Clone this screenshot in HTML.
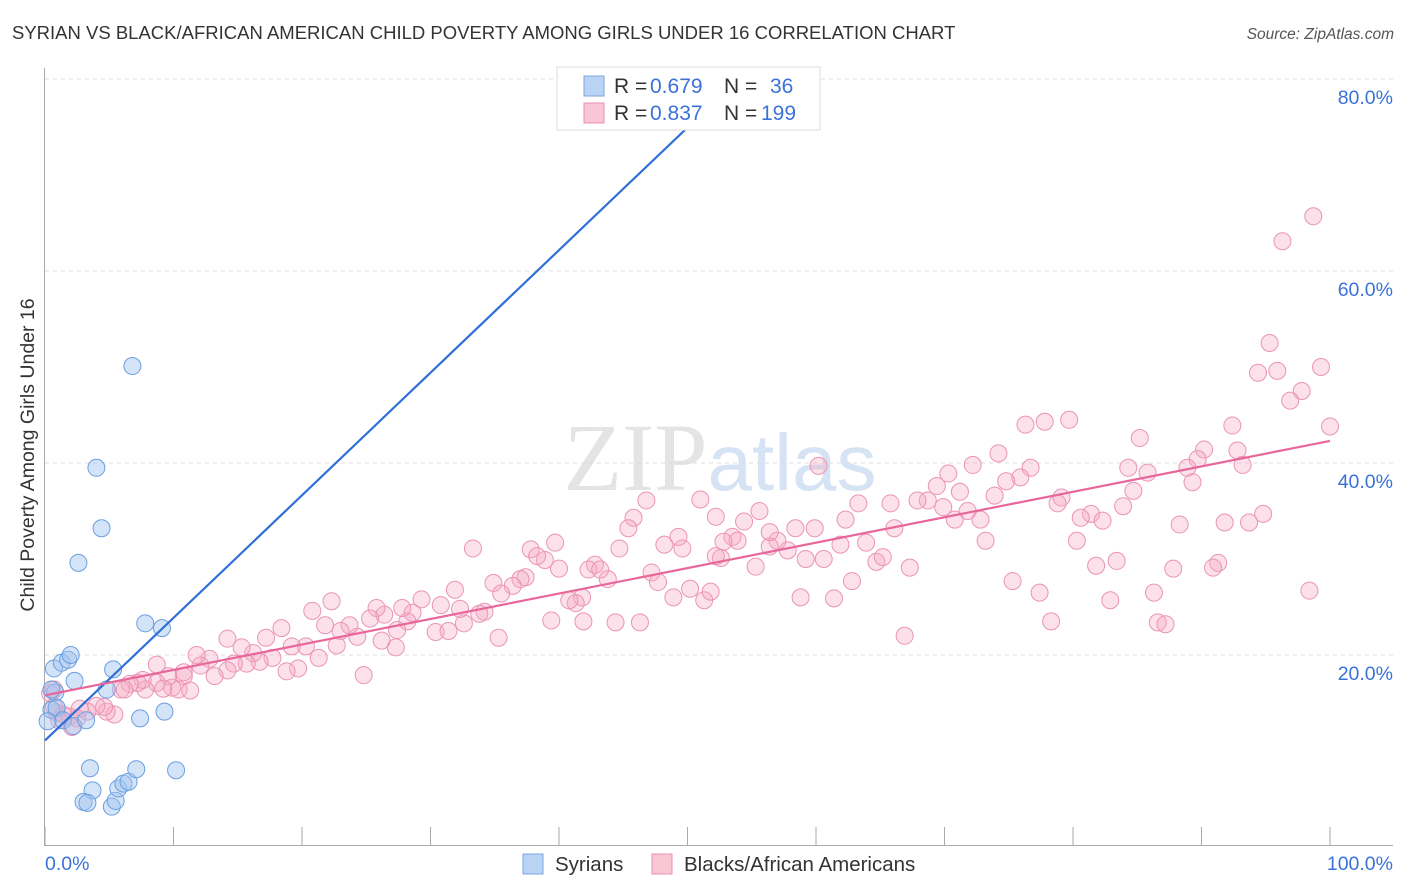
<!DOCTYPE html>
<html><head><meta charset="utf-8"><style>
body{margin:0;background:#fff;font-family:"Liberation Sans",sans-serif;}
svg{display:block}
</style></head><body>
<svg width="1406" height="892" xmlns="http://www.w3.org/2000/svg">
<text x="12" y="39" font-size="18.5" fill="#333">SYRIAN VS BLACK/AFRICAN AMERICAN CHILD POVERTY AMONG GIRLS UNDER 16 CORRELATION CHART</text>
<text x="1394" y="39" font-size="15.5" fill="#555" font-style="italic" text-anchor="end">Source: ZipAtlas.com</text>
<text x="720" y="490" font-size="96" fill="#e4e4e4" text-anchor="middle" font-family="Liberation Serif,serif">ZIP<tspan fill="#d5e3f5" font-family="Liberation Sans,sans-serif" font-size="80">atlas</tspan></text>
<g id="grid"></g>
<g id="axes"></g>
<g id="pts"></g>
<g id="lines"></g>
<text transform="translate(34,455) rotate(-90)" font-size="19.5" fill="#333" text-anchor="middle">Child Poverty Among Girls Under 16</text>
<text x="45" y="870" font-size="19.5" fill="#3b72d9">0.0%</text>
<text x="1393" y="870" font-size="19.5" fill="#3b72d9" text-anchor="end">100.0%</text>
<g>
<rect x="557" y="67" width="263" height="63" fill="#fff" stroke="#ddd"/>
<rect x="584" y="76" width="20" height="20" fill="#b9d3f5" stroke="#7aa7e0"/>
<rect x="584" y="103" width="20" height="20" fill="#f9c6d6" stroke="#e890b0"/>
<text x="614" y="93" font-size="21" fill="#333">R = <tspan x="650" fill="#3b72d9">0.679</tspan><tspan x="724">N = </tspan><tspan x="770" fill="#3b72d9">36</tspan></text>
<text x="614" y="120" font-size="21" fill="#333">R = <tspan x="650" fill="#3b72d9">0.837</tspan><tspan x="724">N = </tspan><tspan x="761" fill="#3b72d9">199</tspan></text>
</g>
<g>
<rect x="523" y="854" width="20" height="20" fill="#b9d3f5" stroke="#7aa7e0"/>
<text x="555" y="871" font-size="20.5" fill="#333">Syrians</text>
<rect x="652" y="854" width="20" height="20" fill="#f9c6d6" stroke="#e890b0"/>
<text x="684" y="871" font-size="20.5" fill="#333">Blacks/African Americans</text>
</g>
</svg>
<script>
const yTicks=[20,40,60,80];
const yTickLabels=["20.0%","40.0%","60.0%","80.0%"];
const xTicks=[0,10,20,30,40,50,60,70,80,90,100];
const blueX=[4.0,4.4,2.6,6.8,7.8,9.1,0.7,1.3,1.8,2.0,2.3,0.8,5.3,4.8,0.5,0.9,1.4,2.2,3.2,7.4,9.3,3.5,3.7,3.0,3.3,5.2,5.5,5.7,6.1,6.5,7.1,10.2,0.2,0.5,47.1];
const blueY=[39.5,33.2,29.6,50.1,23.3,22.8,18.6,19.2,19.5,20.0,17.3,16.1,18.5,16.4,14.3,14.5,13.2,12.6,13.2,13.4,14.1,8.2,5.9,4.7,4.6,4.2,4.8,6.1,6.6,6.8,8.1,8.0,13.1,16.4,79.9];
const pinkX=[98.7,96.3,95.3,94.4,95.9,99.3,97.8,96.9,100,92.4,92.8,93.2,90.2,89.7,88.9,89.3,85.2,84.3,84.7,85.8,79.7,77.8,76.3,74.2,72.2,76.7,75.9,74.8,73.9,70.3,69.4,71.2,68.7,67.9,69.9,71.8,70.8,72.8,73.2,79.1,78.8,81.4,80.6,82.3,83.9,80.3,81.8,83.4,88.3,91.8,93.7,94.8,91.3,90.9,87.8,86.6,87.2,82.9,86.3,98.4,77.4,75.3,78.3,66.9,67.3,66.1,65.8,64.7,65.2,63.9,63.3,62.3,62.8,61.9,60.2,59.9,58.4,59.2,60.6,61.4,58.8,57.8,57.0,56.4,55.6,56.4,54.4,53.5,53.9,52.8,52.6,52.2,51.0,55.3,52.2,49.6,49.3,48.2,47.2,47.7,48.9,50.2,51.3,51.8,46.8,45.8,45.4,44.7,46.3,44.4,43.8,42.8,42.3,43.2,41.8,41.3,40.8,41.9,39.7,40.0,38.9,37.8,38.3,39.4,37.4,37.0,36.4,34.9,35.5,33.3,35.3,34.2,33.8,32.6,31.9,32.3,30.8,30.4,31.4,29.3,28.6,28.2,27.4,27.8,26.4,25.8,25.3,26.2,27.3,24.3,24.8,23.7,23.0,22.3,21.8,20.8,22.7,21.3,20.3,19.2,19.7,18.8,18.4,17.2,17.7,16.7,16.2,15.7,15.3,14.2,14.7,14.2,13.2,12.8,12.1,11.8,10.8,10.8,9.9,9.6,8.7,8.7,7.8,7.6,7.2,6.6,5.9,6.2,10.4,11.3,9.2,5.4,4.8,4.6,4.0,3.3,2.7,2.5,1.9,1.4,0.9,0.7,1.1,2.1,0.4,0.7];
const pinkY=[65.7,63.1,52.5,49.4,49.6,50.0,47.5,46.5,43.8,43.9,41.3,39.8,41.4,40.4,39.5,38.0,42.6,39.5,37.1,39.0,44.5,44.3,44.0,41.0,39.8,39.5,38.5,38.1,36.6,38.9,37.6,37.0,36.1,36.1,35.4,35.0,34.1,34.1,31.9,36.4,35.8,34.7,34.3,34.0,35.5,31.9,29.3,29.8,33.6,33.8,33.8,34.7,29.6,29.1,29.0,23.4,23.2,25.7,26.5,26.7,26.5,27.7,23.5,22.0,29.1,33.2,35.8,29.7,30.2,31.7,35.8,34.1,27.7,31.5,39.7,33.2,33.2,30.0,30.0,25.9,26.0,30.9,31.9,31.3,35.0,32.8,33.9,32.3,31.9,31.8,30.1,34.4,36.2,29.2,30.3,31.1,32.3,31.5,28.6,27.6,26.0,26.9,25.7,26.6,36.1,34.3,33.2,31.1,23.4,23.4,27.9,29.4,28.9,28.9,26.0,25.4,25.7,23.5,31.7,29.0,29.9,31.0,30.3,23.6,28.1,27.9,27.2,27.5,26.4,31.1,21.8,24.5,24.3,23.3,26.8,24.8,25.2,22.4,22.5,25.8,24.4,23.5,22.6,24.9,24.2,24.9,23.8,21.5,20.8,21.9,17.9,23.1,22.5,25.6,23.1,24.6,21.0,19.7,20.9,20.9,18.6,18.3,22.8,21.8,19.7,19.3,20.2,19.1,20.8,21.7,19.1,18.4,17.8,19.6,18.9,20.0,18.2,17.8,16.6,17.8,19.0,17.1,16.4,17.4,17.1,17.0,16.4,16.4,16.4,16.3,16.5,13.8,14.1,14.6,14.7,14.1,14.4,13.4,13.6,13.8,14.0,14.6,13.2,12.5,16.0,16.4];
const blueLine=[[0,11.1],[50.2,75.2]];
const pinkLine=[[0,15.8],[100,42.3]];
const NS="http://www.w3.org/2000/svg";
const X0=45,X1=1330,Y0=847,PXPER=9.6;
function sx(v){return X0+(X1-X0)*v/100;}
function sy(v){return Y0-v*PXPER;}
function mk(tag,attrs,parent){const e=document.createElementNS(NS,tag);for(const k in attrs)e.setAttribute(k,attrs[k]);document.getElementById(parent).appendChild(e);return e;}
yTicks.forEach((t,i)=>{
 const l=mk('line',{x1:45,x2:1393,y1:sy(t),y2:sy(t),stroke:'#ddd','stroke-dasharray':'4,4'},'grid');
 
 
 const tx=mk('text',{x:1393,y:sy(t)+25,'font-size':19.5,fill:'#3b72d9','text-anchor':'end'},'grid');
 tx.textContent=yTickLabels[i];
 
 
});
const ya=mk('line',{x1:44.5,x2:44.5,y1:68,y2:846,stroke:'#aaa'},'axes');


const xa=mk('line',{x1:44,x2:1393,y1:845.5,y2:845.5,stroke:'#aaa'},'axes');


xTicks.forEach(t=>{
 const l=mk('line',{x1:sx(t),x2:sx(t),y1:827,y2:846,stroke:'#aaa'},'axes');
 
 
});
pinkX.forEach((x,i)=>{
 const c=mk('circle',{cx:sx(x),cy:sy(pinkY[i]),r:8.5,fill:'rgba(246,170,196,0.35)',stroke:'#eb94b3','stroke-width':1},'pts');
 
 
});
blueX.forEach((x,i)=>{
 const c=mk('circle',{cx:sx(x),cy:sy(blueY[i]),r:8.5,fill:'rgba(160,196,240,0.45)',stroke:'#6a9fe0','stroke-width':1},'pts');
 
 
});
const bl=mk('line',{x1:sx(blueLine[0][0]),y1:sy(blueLine[0][1]),x2:sx(blueLine[1][0]),y2:sy(blueLine[1][1]),stroke:'#2f6fd6','stroke-width':2.2},'lines');


const pl=mk('line',{x1:sx(pinkLine[0][0]),y1:sy(pinkLine[0][1]),x2:sx(pinkLine[1][0]),y2:sy(pinkLine[1][1]),stroke:'#e8679a','stroke-width':2.2},'lines');


</script>
</body></html>
